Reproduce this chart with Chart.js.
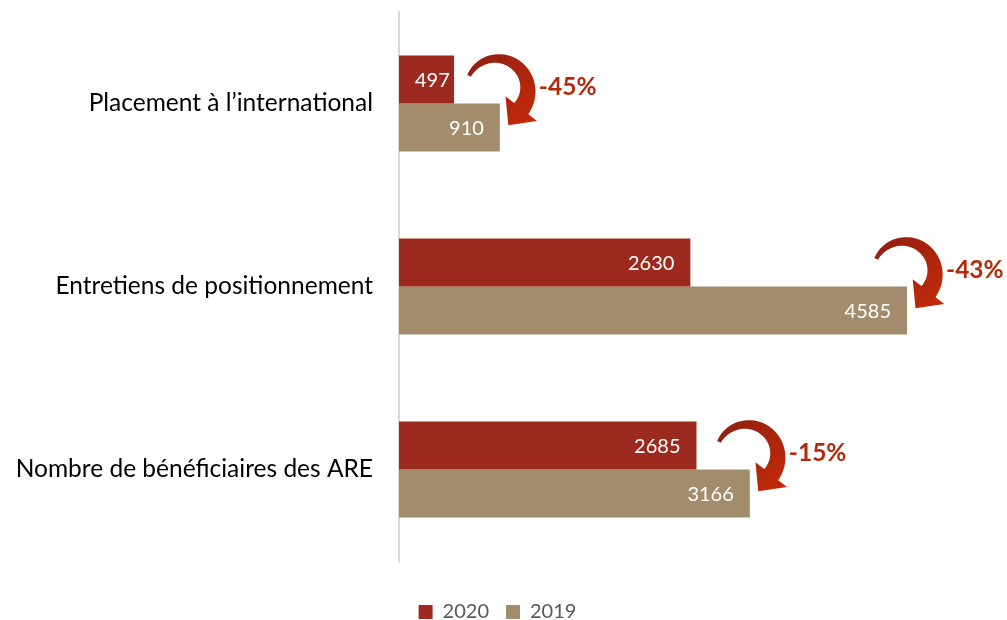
<!DOCTYPE html>
<html>
<head>
<meta charset="utf-8">
<script src="https://cdn.jsdelivr.net/npm/chart.js@4.4.1/dist/chart.umd.min.js"></script>
<style>
  html, body { margin: 0; padding: 0; background: #fff; overflow: hidden; }
  #wrap { width: 1007px; height: 640px; position: relative; }
</style>
</head>
<body>
<div id="wrap"><canvas id="chart"></canvas></div>
<script>
const categories = ['Placement à l\u2019international', 'Entretiens de positionnement', 'Nombre de bénéficiaires des ARE'];
const values2020 = [497, 2630, 2685];
const values2019 = [910, 4585, 3166];
const seriesLabels = ['2020', '2019'];

const FONT = 'Lato';
const RED = '#9c2a1f';
const TAN = '#a38c6b';
const ARROW_RED = '#b3290c';

// value labels inside the bars
const valueLabels = {
    id: 'valueLabels',
    afterDatasetsDraw(chart) {
        const ctx = chart.ctx;
        ctx.save();
        ctx.font = `20px ${FONT}`;
        ctx.fillStyle = '#fff';
        ctx.textAlign = 'left';
        ctx.textBaseline = 'middle';
        chart.data.datasets.forEach((ds, di) => {
            chart.getDatasetMeta(di).data.forEach((bar, i) => {
                const txt = String(ds.data[i]);
                const w = ctx.measureText(txt).width;
                const x = Math.max(bar.x - 16 - w, bar.base + 16);
                ctx.fillText(txt, x, bar.y + 1);
            });
        });
        ctx.restore();
    }
};

function drawArrow(ctx, tipX, tipY) {
    const cx = tipX - 14, cy = tipY - 36, r = 31;
    const a0 = -154 * Math.PI / 180, a1 = 38 * Math.PI / 180;
    const steps = 30;
    const outer = [], inner = [];
    for (let i = 0; i <= steps; i++) {
        const t = i / steps;
        const a = a0 + (a1 - a0) * t;
        const w = 2 + 7 * t;
        outer.push([cx + (r + w) * Math.cos(a), cy + (r + w) * Math.sin(a)]);
        inner.push([cx + (r - w) * Math.cos(a), cy + (r - w) * Math.sin(a)]);
    }
    const ux = Math.cos(a1), uy = Math.sin(a1);
    const tx = -Math.sin(a1), ty = Math.cos(a1);
    const mx = cx + r * ux, my = cy + r * uy;
    const grad = ctx.createLinearGradient(cx - r, cy - r, cx + r, cy + r);
    grad.addColorStop(0, '#8e1f10');
    grad.addColorStop(1, '#c02a0a');
    ctx.fillStyle = grad;
    ctx.beginPath();
    outer.forEach(([x, y], i) => i ? ctx.lineTo(x, y) : ctx.moveTo(x, y));
    ctx.lineTo(mx + 20 * ux, my + 20 * uy);
    ctx.lineTo(mx + 21 * tx, my + 21 * ty);
    ctx.lineTo(mx - 20 * ux, my - 20 * uy);
    for (let i = inner.length - 1; i >= 0; i--) ctx.lineTo(inner[i][0], inner[i][1]);
    ctx.closePath();
    ctx.fill();
}

// curved arrows + change percentages
const changeArrows = {
    id: 'changeArrows',
    afterDatasetsDraw(chart) {
        const ctx = chart.ctx;
        const bars19 = chart.getDatasetMeta(1).data;
        ctx.save();
        bars19.forEach((bar, i) => {
            const tipX = bar.x + 11, tipY = bar.y - 2;
            drawArrow(ctx, tipX, tipY);
            const pct = Math.round((values2020[i] / values2019[i] - 1) * 100);
            ctx.font = `bold 24.5px ${FONT}`;
            ctx.fillStyle = ARROW_RED;
            ctx.textAlign = 'left';
            ctx.textBaseline = 'middle';
            ctx.fillText(pct + '%', tipX + 28, tipY - 38);
        });
        ctx.restore();
    }
};

// legend sits a little right of the canvas centre in the original
const legendShift = {
    id: 'legendShift',
    afterLayout(chart) {
        chart.legend.left += 16;
        chart.legend.right += 16;
    }
};

new Chart(document.getElementById('chart'), {
    type: 'bar',
    data: {
        labels: categories,
        datasets: [
            {label: seriesLabels[0], data: values2020, backgroundColor: RED},
            {label: seriesLabels[1], data: values2019, backgroundColor: TAN}
        ]
    },
    options: {
        indexAxis: 'y',
        responsive: true,
        maintainAspectRatio: false,
        animation: false,
        datasets: {bar: {barPercentage: 1, categoryPercentage: 0.525}},
        layout: {padding: {top: 12, left: 10, right: 54, bottom: 8}},
        scales: {
            x: {
                min: 0, max: 5000,
                grid: {display: false},
                border: {display: false},
                ticks: {display: false},
                afterFit: s => { s.height = 24; }
            },
            y: {
                grid: {display: false, drawTicks: false},
                border: {display: true, color: '#d9d9d9', width: 2},
                ticks: {color: '#000', padding: 26, font: {family: FONT, size: 24.5}},
                afterFit: s => { s.width = 399 - 10; s.paddingTop = 0; s.paddingBottom = 0; }
            }
        },
        plugins: {
            legend: {
                position: 'bottom',
                labels: {
                    boxWidth: 14, boxHeight: 14, padding: 17,
                    color: '#595959',
                    font: {family: FONT, size: 20}
                }
            },
            tooltip: {enabled: false}
        }
    },
    plugins: [valueLabels, changeArrows, legendShift]
});
</script>
</body>
</html>
